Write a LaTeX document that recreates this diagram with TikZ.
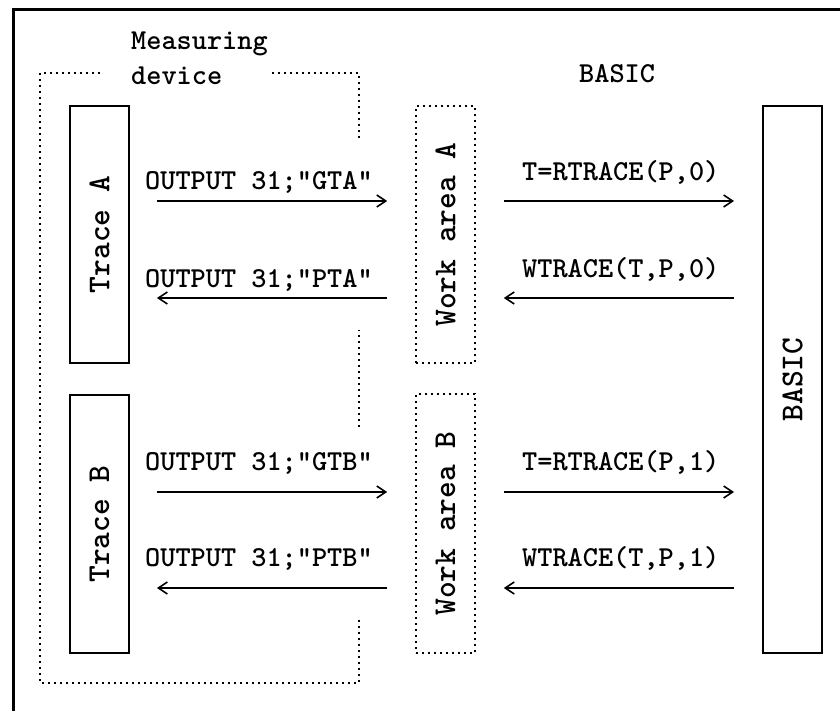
\documentclass[tikz,border=0pt]{standalone}
\usepackage{fontspec}
\usetikzlibrary{arrows.meta}
\newcommand\hlblfont{\ttfamily\bfseries\fontsize{29}{34}\selectfont\addfontfeatures{FakeStretch=0.94}}
\newcommand\vlblfont{\ttfamily\bfseries\fontsize{32}{36}\selectfont\addfontfeatures{FakeStretch=0.90}}
\begin{document}
\begin{tikzpicture}[x=1bp,y=-1bp,
  solidbox/.style={draw,line width=1.8bp,minimum width=59bp,inner sep=0pt},
  dotbox/.style={draw,line width=1.6bp,dash pattern=on 1.8bp off 4.2bp,minimum width=59bp,inner sep=0pt},
  dotline/.style={line width=1.6bp,dash pattern=on 1.8bp off 4.2bp},
  arr/.style={line width=1.6bp,-{Straight Barb[length=9bp,width=12bp]}},
  lbl/.style={font=\hlblfont,anchor=base west,inner sep=0pt},
  vlbl/.style={font=\vlblfont,rotate=90,inner sep=0pt}]
\useasboundingbox (0,0) rectangle (840,711);
\fill[white] (0,0) rectangle (840,711);
% frame
\draw[line width=3bp] (13,711) -- (13,10) -- (840,10);
% measuring device outline
\draw[dotline] (100,73) -- (40,73) -- (40,683) -- (359,683) -- (359,620);
\draw[dotline] (359,427) -- (359,330);
\draw[dotline] (359,138) -- (359,73) -- (272,73);
\node[lbl] (meas) at (131,50) {Measuring};
\node[lbl] (dev) at (131,85) {device};
\node[lbl] (basiclbl) at (579,83) {BASIC};
% boxes
\node[solidbox,minimum height=257bp] (trA) at (99.5,234.5) {};
\node[solidbox,minimum height=258bp] (trB) at (99.5,524) {};
\node[dotbox,minimum height=257bp] (wA) at (445.5,234.5) {};
\node[dotbox,minimum height=259bp] (wB) at (445.5,523.5) {};
\node[solidbox,minimum height=547bp] (bas) at (792.5,379.5) {};
\node[vlbl] (trAt) at (trA.center) {Trace A};
\node[vlbl] (trBt) at (trB.center) {Trace B};
\node[vlbl] (wAt) at (wA.center) {Work area A};
\node[vlbl] (wBt) at (wB.center) {Work area B};
\node[vlbl] (bast) at (bas.center) {BASIC};
% arrow rows
\coordinate (r1) at (0,201);
\coordinate (r2) at (0,298);
\coordinate (r3) at (0,492);
\coordinate (r4) at (0,588);
\draw[arr,shorten <=27bp,shorten >=28bp] (trA.east |- r1) -- (wA.west |- r1);
\draw[arr,shorten <=28bp,shorten >=27bp] (wA.west |- r2) -- (trA.east |- r2);
\draw[arr,shorten <=28bp,shorten >=28bp] (wA.east |- r1) -- (bas.west |- r1);
\draw[arr,shorten <=28bp,shorten >=28bp] (bas.west |- r2) -- (wA.east |- r2);
\draw[arr,shorten <=27bp,shorten >=28bp] (trB.east |- r3) -- (wB.west |- r3);
\draw[arr,shorten <=28bp,shorten >=27bp] (wB.west |- r4) -- (trB.east |- r4);
\draw[arr,shorten <=28bp,shorten >=28bp] (wB.east |- r3) -- (bas.west |- r3);
\draw[arr,shorten <=28bp,shorten >=28bp] (bas.west |- r4) -- (wB.east |- r4);
% labels
\node[lbl] (l1) at (145,189) {OUTPUT 31;"GTA"};
\node[lbl] (l2) at (145,287) {OUTPUT 31;"PTA"};
\node[lbl] (l3) at (522,180) {T=RTRACE(P,0)};
\node[lbl] (l4) at (522,277) {WTRACE(T,P,0)};
\node[lbl] (l5) at (145,470) {OUTPUT 31;"GTB"};
\node[lbl] (l6) at (145,566) {OUTPUT 31;"PTB"};
\node[lbl] (l7) at (522,470) {T=RTRACE(P,1)};
\node[lbl] (l8) at (522,566) {WTRACE(T,P,1)};
\end{tikzpicture}
\end{document}
